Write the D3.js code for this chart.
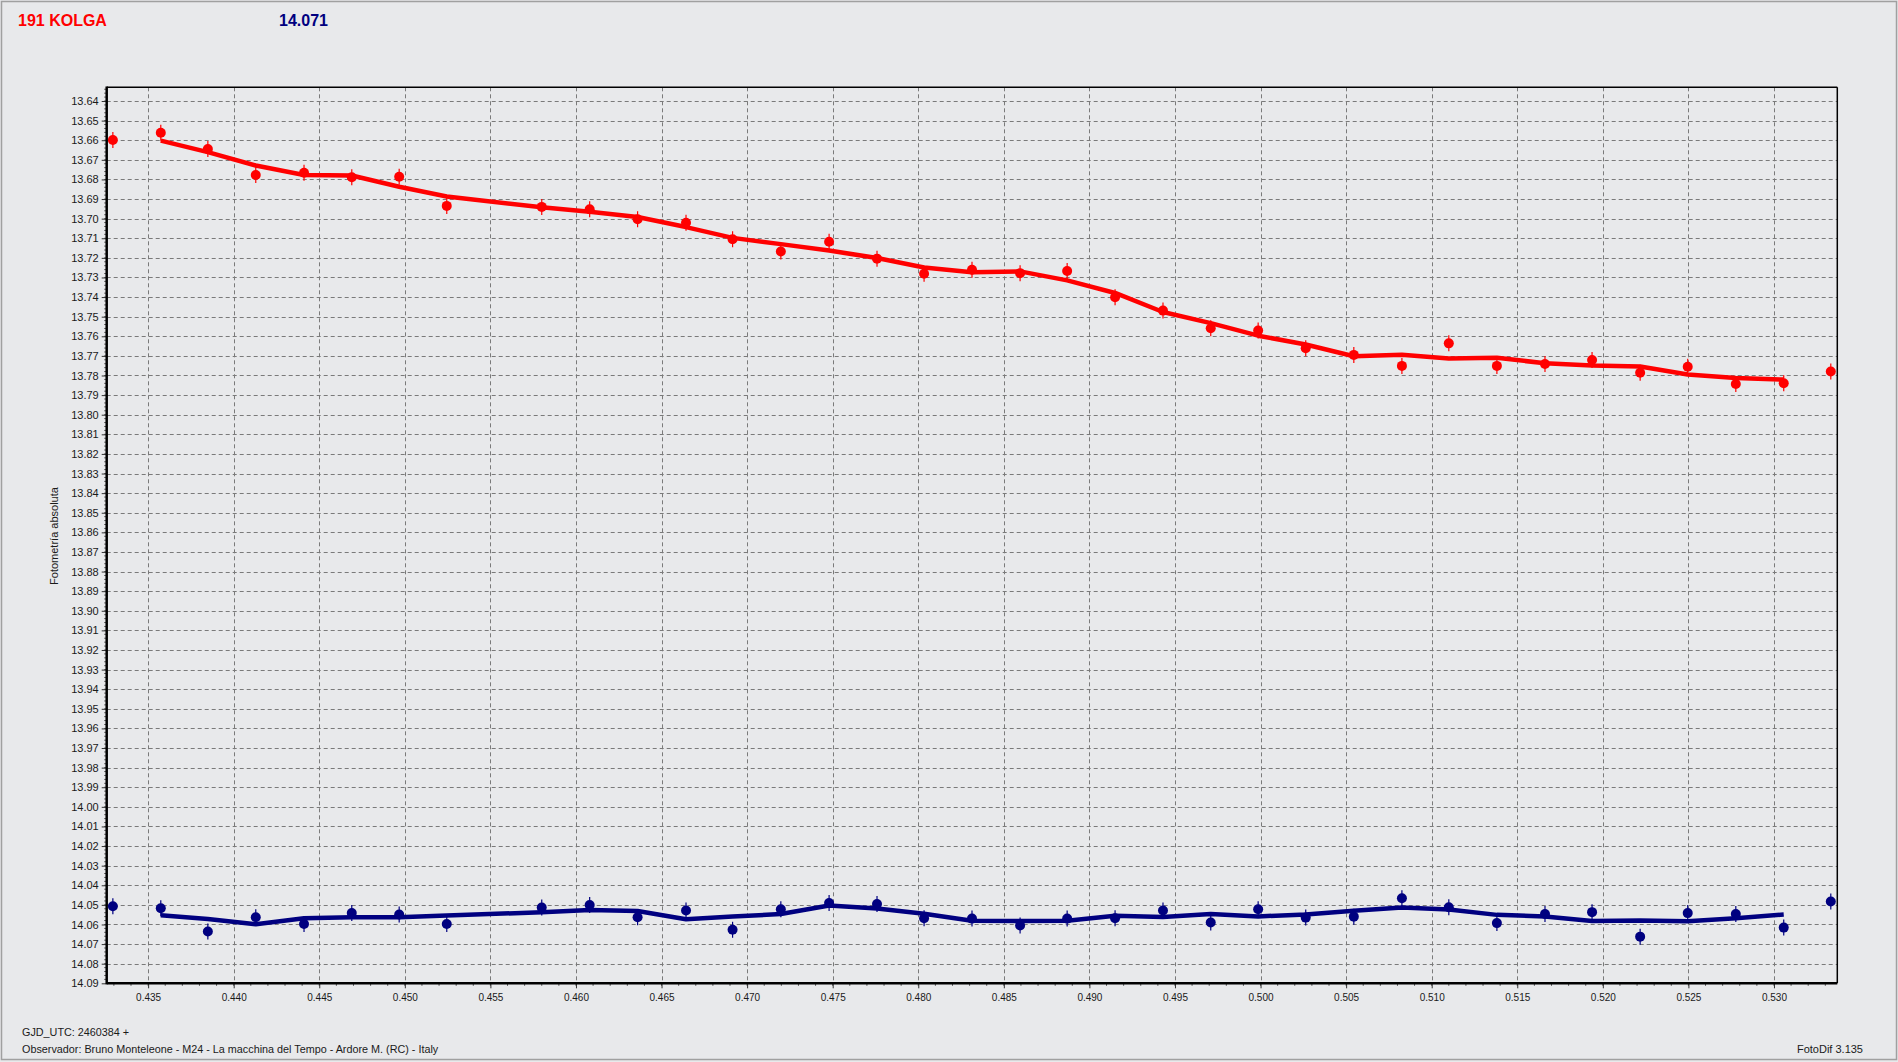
<!DOCTYPE html>
<html><head><meta charset="utf-8">
<script src="https://cdn.jsdelivr.net/npm/d3@7"></script>
<style>
html,body{margin:0;padding:0;background:#e8e9eb;overflow:hidden}
svg{display:block}
text{font-family:"Liberation Sans",Arial,sans-serif}
</style></head><body>
<svg id="c" width="1898" height="1062"></svg>
<script>
// ---- DATA ----
const titleText = "191 KOLGA";
const compText = "14.071";
const yTitle = "Fotometría absoluta";
const footer1 = "GJD_UTC: 2460384 +";
const footer2 = "Observador: Bruno Monteleone - M24 - La macchina del Tempo - Ardore M. (RC) - Italy";
const footerRight = "FotoDif 3.135";

const jd = [0.43294, 0.43574, 0.43849, 0.44129, 0.44411, 0.44690, 0.44967, 0.45245, 0.45800, 0.46080,
            0.46360, 0.46643, 0.46915, 0.47197, 0.47479, 0.47759, 0.48034, 0.48314, 0.48595, 0.48870,
            0.49150, 0.49430, 0.49709, 0.49986, 0.50264, 0.50545, 0.50826, 0.51100, 0.51381, 0.51662,
            0.51937, 0.52218, 0.52496, 0.52777, 0.53057, 0.53332];

const magRed = [13.6599, 13.6562, 13.6645, 13.6777, 13.6766, 13.6789, 13.6786, 13.6935, 13.6940, 13.6952,
                13.7003, 13.7021, 13.7105, 13.7168, 13.7118, 13.7204, 13.7281, 13.7261, 13.7278, 13.7267,
                13.7401, 13.7469, 13.7559, 13.7571, 13.7661, 13.7695, 13.7751, 13.7636, 13.7751, 13.7741,
                13.7721, 13.7786, 13.7755, 13.7843, 13.7840, 13.7780];

const magBlue = [14.0507, 14.0517, 14.0636, 14.0563, 14.0598, 14.0542, 14.0549, 14.0598, 14.0514, 14.0501,
                 14.0563, 14.0529, 14.0627, 14.0522, 14.0491, 14.0496, 14.0568, 14.0570, 14.0605, 14.0570,
                 14.0568, 14.0529, 14.0590, 14.0522, 14.0565, 14.0560, 14.0466, 14.0512, 14.0593, 14.0547,
                 14.0537, 14.0662, 14.0542, 14.0547, 14.0616, 14.0483];

// smoothed curves (points 2..35)
const fitRed = [13.6602, 13.6661, 13.6729, 13.6777, 13.6780, 13.6837, 13.6887, 13.6942, 13.6965, 13.6992,
                13.7043, 13.7098, 13.7130, 13.7163, 13.7201, 13.7249, 13.7273, 13.7269, 13.7315, 13.7379,
                13.7476, 13.7533, 13.7597, 13.7642, 13.7702, 13.7694, 13.7713, 13.7709, 13.7738, 13.7749,
                13.7754, 13.7795, 13.7813, 13.7821];
const fitBlue = [14.0553, 14.0572, 14.0599, 14.0568, 14.0563, 14.0563, 14.0554, 14.0538, 14.0526, 14.0531,
                 14.0573, 14.0559, 14.0547, 14.0503, 14.0518, 14.0545, 14.0581, 14.0582, 14.0581, 14.0556,
                 14.0562, 14.0547, 14.0559, 14.0549, 14.0530, 14.0513, 14.0524, 14.0551, 14.0559, 14.0582,
                 14.0580, 14.0584, 14.0568, 14.0549];
const fitJd = jd.slice(1, 35);

const xTicks = [0.435, 0.440, 0.445, 0.450, 0.455, 0.460, 0.465, 0.470, 0.475, 0.480,
                0.485, 0.490, 0.495, 0.500, 0.505, 0.510, 0.515, 0.520, 0.525, 0.530];
const yTicks = [13.64, 13.65, 13.66, 13.67, 13.68, 13.69, 13.70, 13.71, 13.72, 13.73,
                13.74, 13.75, 13.76, 13.77, 13.78, 13.79, 13.80, 13.81, 13.82, 13.83,
                13.84, 13.85, 13.86, 13.87, 13.88, 13.89, 13.90, 13.91, 13.92, 13.93,
                13.94, 13.95, 13.96, 13.97, 13.98, 13.99, 14.00, 14.01, 14.02, 14.03,
                14.04, 14.05, 14.06, 14.07, 14.08, 14.09];

// ---- LAYOUT ----
const W = 1898, H = 1062;
const L = 106.7, R = 1837.3, T = 87.3, B = 983.3;
const svg = d3.select("#c");

const x = d3.scaleLinear().domain([0.43258, 0.53370]).range([L, R]);
const y = d3.scaleLinear().domain([13.63301, 14.09]).range([T, B]);

// window border
svg.append("rect").attr("x", 1.5).attr("y", 1.5).attr("width", W - 3).attr("height", H - 4)
  .attr("fill", "#e8e9eb").attr("stroke", "#a0a0a0").attr("stroke-width", 1.5);

// grid
const grid = svg.append("g").attr("stroke", "#7a7a7a").attr("stroke-width", 1).attr("stroke-dasharray", "4,3");
grid.selectAll("line.h").data(yTicks.filter(d => d < 14.09)).join("line")
  .attr("x1", L).attr("x2", R).attr("y1", d => Math.round(y(d)) + 0.5).attr("y2", d => Math.round(y(d)) + 0.5);
grid.selectAll("line.v").data(xTicks).join("line")
  .attr("y1", T).attr("y2", B).attr("x1", d => Math.round(x(d)) + 0.5).attr("x2", d => Math.round(x(d)) + 0.5);

// minor ticks
const yMinor = d3.range(13.634, 14.09, 0.002);
svg.append("g").selectAll("line").data(yMinor).join("line")
  .attr("x1", L - 2.5).attr("x2", L).attr("y1", d => y(d)).attr("y2", d => y(d))
  .attr("stroke", "#555").attr("stroke-width", 1);
const xMinor = d3.range(0.433, 0.5337, 0.001);
svg.append("g").selectAll("line").data(xMinor).join("line")
  .attr("y1", B).attr("y2", B + 2.5).attr("x1", d => x(d)).attr("x2", d => x(d))
  .attr("stroke", "#555").attr("stroke-width", 1);

// axes
const yAxis = d3.axisLeft(y).tickValues(yTicks).tickSize(5).tickPadding(3).tickFormat(d3.format(".2f"));
const gy = svg.append("g").attr("transform", `translate(${L},0)`).call(yAxis);
gy.select(".domain").remove();
gy.selectAll("text").attr("font-size", 11).attr("fill", "#1a1a1a")
  .attr("font-family", '"Liberation Sans", Arial, sans-serif');
gy.selectAll("line").attr("stroke", "#333");

const xAxis = d3.axisBottom(x).tickValues(xTicks).tickSize(5).tickPadding(6).tickFormat(d3.format(".3f"));
const gx = svg.append("g").attr("transform", `translate(0,${B})`).call(xAxis);
gx.select(".domain").remove();
gx.selectAll("text").attr("fill", "#1a1a1a")
  .attr("font-family", '"DejaVu Sans", Verdana, sans-serif').attr("font-size", 10);
gx.selectAll("line").attr("stroke", "#333");

// plot frame
svg.append("line").attr("x1", L).attr("x2", R).attr("y1", T).attr("y2", T).attr("stroke", "#000").attr("stroke-width", 1.5);
svg.append("line").attr("x1", R).attr("x2", R).attr("y1", T).attr("y2", B).attr("stroke", "#000").attr("stroke-width", 1.5);
svg.append("line").attr("x1", L).attr("x2", L).attr("y1", T - 0.75).attr("y2", B + 1).attr("stroke", "#000").attr("stroke-width", 2.5);
svg.append("line").attr("x1", L).attr("x2", R).attr("y1", B).attr("y2", B).attr("stroke", "#000").attr("stroke-width", 2.5);

// series
function drawSeries(vals, fit, color) {
  const line = d3.line().x((d, i) => x(fitJd[i])).y(d => y(d));
  svg.append("path").datum(fit).attr("d", line).attr("fill", "none")
    .attr("stroke", color).attr("stroke-width", 4.5).attr("stroke-linejoin", "round");
  const g = svg.append("g");
  const pts = vals.map((v, i) => ({x: jd[i], v}));
  g.selectAll("line").data(pts).join("line")
    .attr("x1", d => x(d.x)).attr("x2", d => x(d.x))
    .attr("y1", d => y(d.v) - 8).attr("y2", d => y(d.v) + 8)
    .attr("stroke", color).attr("stroke-width", 1.2);
  g.selectAll("circle").data(pts).join("circle")
    .attr("cx", d => x(d.x)).attr("cy", d => y(d.v)).attr("r", 5).attr("fill", color);
}
drawSeries(magRed, fitRed, "#ff0000");
drawSeries(magBlue, fitBlue, "#000080");

// titles
svg.append("text").attr("x", 18).attr("y", 25.5).text(titleText)
  .attr("fill", "#ff0000").attr("font-size", 16).attr("font-weight", "bold");
svg.append("text").attr("x", 279).attr("y", 25.5).text(compText)
  .attr("fill", "#000080").attr("font-size", 16).attr("font-weight", "bold");

svg.append("text").attr("transform", "translate(58,536) rotate(-90)").attr("text-anchor", "middle")
  .attr("font-size", 11).attr("fill", "#1a1a1a").text(yTitle);

svg.append("text").attr("x", 22).attr("y", 1036).attr("font-size", 10.8).attr("fill", "#1a1a1a").text(footer1);
svg.append("text").attr("x", 22).attr("y", 1053).attr("font-size", 10.8).attr("fill", "#1a1a1a").text(footer2);
svg.append("text").attr("x", 1863).attr("y", 1053).attr("text-anchor", "end").attr("font-size", 11)
  .attr("fill", "#1a1a1a").text(footerRight);
</script>
</body></html>
